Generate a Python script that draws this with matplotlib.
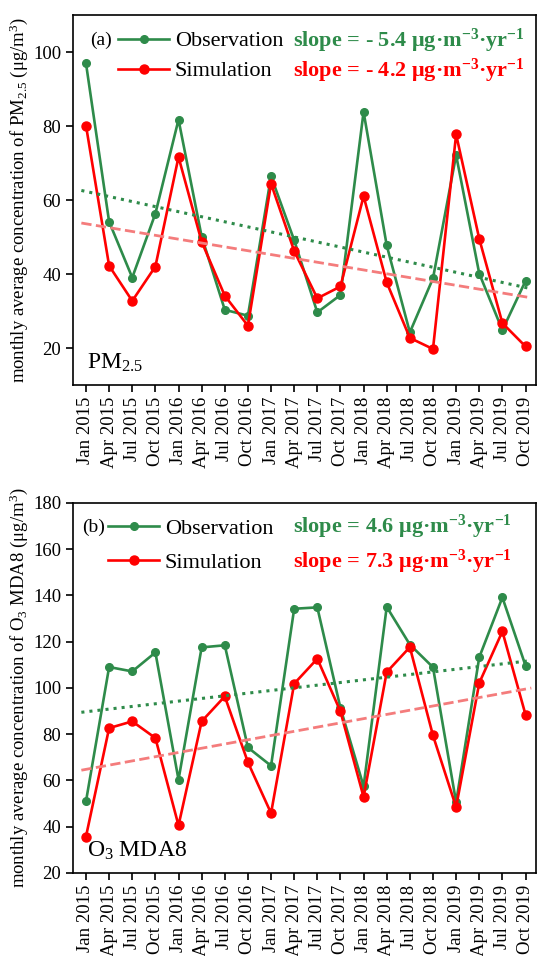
import numpy as np
import matplotlib
matplotlib.use("Agg")
import matplotlib.pyplot as plt

plt.rcParams['font.family'] = ['Liberation Serif', 'DejaVu Serif']
plt.rcParams['mathtext.fontset'] = 'custom'
plt.rcParams['mathtext.rm'] = 'Liberation Serif'
plt.rcParams['mathtext.it'] = 'Liberation Serif:italic'
plt.rcParams['mathtext.bf'] = 'Liberation Serif:bold'

quarters = ['Jan 2015', 'Apr 2015', 'Jul 2015', 'Oct 2015',
            'Jan 2016', 'Apr 2016', 'Jul 2016', 'Oct 2016',
            'Jan 2017', 'Apr 2017', 'Jul 2017', 'Oct 2017',
            'Jan 2018', 'Apr 2018', 'Jul 2018', 'Oct 2018',
            'Jan 2019', 'Apr 2019', 'Jul 2019', 'Oct 2019']

pm_obs = [97.0, 54.2, 39.1, 56.4, 81.8, 50.2, 30.4, 28.8, 66.5, 49.2,
          29.7, 34.4, 83.9, 47.8, 24.3, 38.9, 72.2, 40.2, 24.9, 38.2]
pm_sim = [80.2, 42.3, 32.8, 42.1, 71.7, 48.8, 34.2, 26.1, 64.5, 46.3,
          33.5, 36.7, 61.1, 37.8, 22.8, 19.8, 77.8, 49.6, 26.8, 20.5]

o3_obs = [50.9, 109.0, 107.1, 115.3, 60.3, 117.5, 118.4, 74.2, 66.3, 134.2,
          134.8, 91.3, 57.4, 135.0, 118.7, 108.9, 50.5, 113.2, 139.1, 109.6]
o3_sim = [35.7, 82.6, 85.5, 78.3, 40.5, 85.5, 96.3, 67.8, 45.8, 101.8,
          112.6, 89.8, 52.8, 106.8, 117.6, 79.4, 48.4, 102.1, 124.4, 88.4]

green = '#2E8B4A'
red = '#FF0000'
pink = '#F47C7C'

x = np.arange(len(quarters))
fig = plt.figure(figsize=(5.37, 9.56), dpi=100)
ax1 = fig.add_axes([0.136, 0.597, 0.862, 0.387])
ax2 = fig.add_axes([0.136, 0.087, 0.862, 0.387])


def panel(ax, obs, sim, ylim, yticks, tag, tag_x, leg_x, spacing, rows,
          slope_obs, slope_sim, species, ylab):
    ax.plot(x, obs, '-o', color=green, lw=1.9, ms=5.5, label='Observation')
    ax.plot(x, sim, '-o', color=red, lw=1.9, ms=6.5, label='Simulation')
    xt = np.array([-0.2, 19.25])
    p = np.polyfit(x, obs, 1)
    ax.plot(xt, np.polyval(p, xt), ':', color=green, lw=2.2)
    p = np.polyfit(x, sim, 1)
    ax.plot(xt, np.polyval(p, xt), '--', color=pink, lw=2.0)

    ax.set_xlim(-0.56, 19.45)
    ax.set_ylim(*ylim)
    ax.set_yticks(yticks)
    ax.set_xticks(x)
    ax.set_xticklabels(quarters, rotation=90, fontsize=13.5)
    ax.tick_params(axis='y', labelsize=13.5, direction='out', length=5, width=1.2)
    ax.tick_params(axis='x', direction='out', length=5, width=1.2)
    for s in ax.spines.values():
        s.set_linewidth(1.2)
    ax.set_ylabel(ylab, fontsize=13.5, labelpad=2)

    ax.legend(loc='upper left', bbox_to_anchor=(leg_x, 1.0), frameon=False,
              fontsize=16, handlelength=2.3, handletextpad=0.25,
              labelspacing=spacing, borderaxespad=0.3)
    ax.text(tag_x, rows[0], tag, transform=ax.transAxes, fontsize=14, va='center')
    ax.text(0.475, rows[0], slope_obs, transform=ax.transAxes, fontsize=16,
            fontweight='bold', color=green, va='center')
    ax.text(0.475, rows[1], slope_sim, transform=ax.transAxes, fontsize=16,
            fontweight='bold', color=red, va='center')
    ax.text(0.03, 0.06, species, transform=ax.transAxes, fontsize=17, va='center')


unit = r' μg·m$^{\mathbf{-3}}$·yr$^{\mathbf{-1}}$'
panel(ax1, pm_obs, pm_sim, (10, 110), [20, 40, 60, 80, 100], '(a)', 0.036, 0.064,
      0.42, (0.932, 0.849),
      'slope = - 5.4' + unit, 'slope = - 4.2' + unit, r'PM$_{2.5}$',
      r'monthly average concentration of PM$_{2.5}$ (μg/m$^3$)')
panel(ax2, o3_obs, o3_sim, (20, 180), list(range(20, 181, 20)), '(b)', 0.019, 0.042,
      0.6, (0.935, 0.841),
      'slope = 4.6' + unit, 'slope = 7.3' + unit, r'O$_3$ MDA8',
      r'monthly average concentration of O$_3$ MDA8 (μg/m$^3$)')

fig.savefig('out.png', dpi=100)
